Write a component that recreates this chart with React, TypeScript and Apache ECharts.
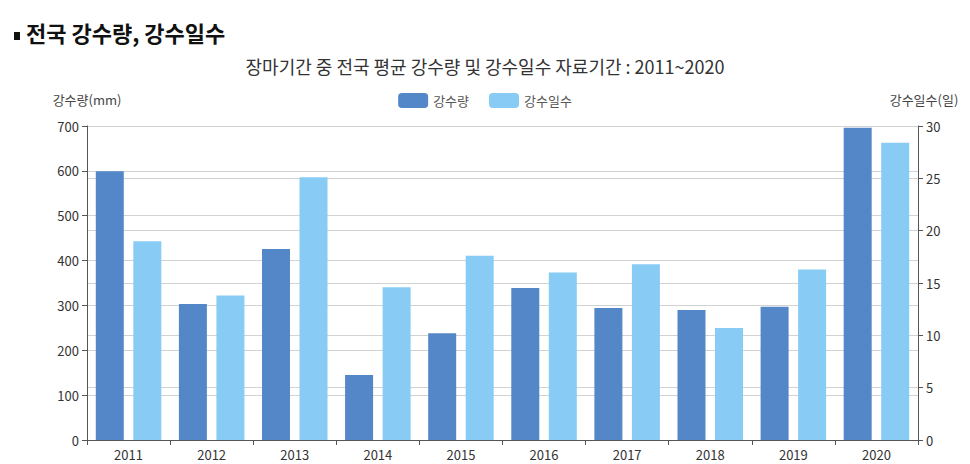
import React, { useEffect, useRef } from "react";
import * as echarts from "echarts";

const years = ["2011", "2012", "2013", "2014", "2015", "2016", "2017", "2018", "2019", "2020"];
const rainfall = [599, 303, 426, 145, 238, 339, 294, 290, 297, 696];
const rainDays = [19.0, 13.8, 25.1, 14.6, 17.6, 16.0, 16.8, 10.7, 16.3, 28.4];
const seriesNames = ["강수량", "강수일수"];

const FONT = "'Noto Sans CJK KR', 'Noto Sans', sans-serif";

export default function App() {
  const ref = useRef<HTMLDivElement>(null);
  useEffect(() => {
    if (!ref.current) return;
    const chart = echarts.init(ref.current, null, { renderer: "svg" });
    chart.setOption({
      animation: false,
      backgroundColor: "#ffffff",
      textStyle: { fontFamily: FONT },
      graphic: [
        { type: "rect", left: 14, top: 32, shape: { width: 6, height: 8 }, style: { fill: "#111" } },
        {
          type: "text",
          left: 26,
          top: 21,
          style: { text: "전국 강수량, 강수일수", font: `bold 22px ${FONT}`, fill: "#111" },
        },
      ],
      title: {
        text: "장마기간 중 전국 평균 강수량 및 강수일수 자료기간 : 2011~2020",
        left: "center",
        top: 52,
        textStyle: { fontSize: 18, fontWeight: "normal", color: "#333", fontFamily: FONT },
      },
      legend: {
        data: seriesNames,
        top: 88,
        left: "center",
        itemWidth: 30,
        itemHeight: 15,
        itemGap: 20,
        textStyle: { fontSize: 13, color: "#555", fontFamily: FONT },
      },
      grid: { left: 87, right: 52, top: 126, bottom: 24 },
      xAxis: {
        type: "category",
        data: years,
        boundaryGap: true,
        axisLine: { lineStyle: { color: "#555" } },
        axisTick: { show: true, alignWithLabel: false, length: 5, lineStyle: { color: "#555" } },
        axisLabel: { color: "#333", fontSize: 13, margin: 8 },
      },
      yAxis: [
        {
          type: "value",
          min: 0,
          max: 700,
          interval: 100,
          name: "강수량(mm)",
          nameLocation: "end",
          nameGap: 20,
          nameTextStyle: { color: "#444", fontSize: 13, align: "center" },
          axisLine: { show: true, lineStyle: { color: "#555" } },
          axisTick: { show: true, length: 5, lineStyle: { color: "#555" } },
          axisLabel: { color: "#333", fontSize: 13, margin: 8 },
          splitLine: { show: true, lineStyle: { color: "#d2d2d2" } },
        },
        {
          type: "value",
          min: 0,
          max: 30,
          interval: 5,
          name: "강수일수(일)",
          nameLocation: "end",
          nameGap: 20,
          nameTextStyle: { color: "#444", fontSize: 13, align: "center", padding: [0, 0, 0, 12] },
          axisLine: { show: true, lineStyle: { color: "#555" } },
          axisTick: { show: true, length: 5, lineStyle: { color: "#555" } },
          axisLabel: { color: "#333", fontSize: 13, margin: 8 },
          splitLine: { show: true, lineStyle: { color: "#d2d2d2" } },
        },
      ],
      series: [
        {
          name: seriesNames[0],
          type: "bar",
          yAxisIndex: 0,
          data: rainfall,
          barWidth: 28,
          barGap: "34%",
          itemStyle: { color: "#5387c7" },
        },
        {
          name: seriesNames[1],
          type: "bar",
          yAxisIndex: 1,
          data: rainDays,
          barWidth: 28,
          barGap: "34%",
          itemStyle: { color: "#88ccf5" },
        },
      ],
    });
    return () => chart.dispose();
  }, []);
  return (
    <div
      ref={ref}
      style={{ position: "absolute", left: 0, top: 0, width: 970, height: 464, background: "#fff" }}
    />
  );
}
